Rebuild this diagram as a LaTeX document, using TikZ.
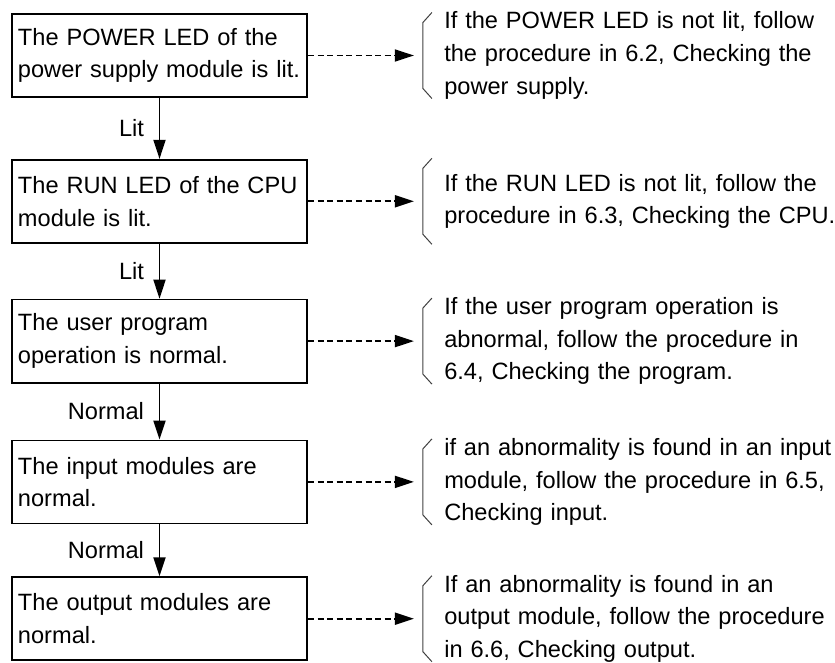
\documentclass[tikz,border=0pt]{standalone}
\usepackage{fontspec}
\setmainfont{Liberation Sans}
\usetikzlibrary{arrows.meta, positioning}
\newcommand{\chartfont}{\fontsize{11.8}{16.3}\selectfont}

\begin{document}
\begin{tikzpicture}[
  checkBox/.style    = {rectangle, draw=black, line width=0.9pt,
                        text width=141.5pt, inner xsep=3pt, minimum height=41.5pt,
                        align=left, font=\chartfont},
  noteTXT/.style     = {rectangle, text width=210pt, inner xsep=15pt,
                        align=left, font=\chartfont},
  arr/.style         = {-{Triangle[length=9.5pt,width=6pt]}, line width=0.9pt},
  dashArr/.style     = {-{Triangle[length=9.5pt,width=6pt]}, line width=0.9pt,
                        dash pattern=on 3pt off 1.8pt},
  noteBracket/.style = {line width=0.5pt, color=black!75},
  lbl/.style         = {font=\chartfont, left=4pt},
]
\useasboundingbox (0,0) rectangle (417.5pt,-331.5pt);

\node[checkBox] (b1) at (79.75pt,-27.75pt)
  {The POWER LED of the\\ power supply module is lit.};
\node[checkBox, below=30.5pt of b1] (b2)
  {The RUN LED of the CPU\\ module is lit.};
\node[checkBox, below=27.5pt of b2] (b3)
  {The user program\\ operation is normal.};
\node[checkBox, below=28pt of b3] (b4)
  {The input modules are\\ normal.};
\node[checkBox, below=26pt of b4] (b5)
  {The output modules are\\ normal.};

%% Remedies
\node[noteTXT, right=53pt of b1] (n1)
  {If the POWER LED is not lit, follow\\ the procedure in 6.2, Checking the\\ power supply.};
\node[noteTXT, right=53pt of b2] (n2)
  {If the RUN LED is not lit, follow the\\ procedure in 6.3, Checking the CPU.};
\node[noteTXT, right=53pt of b3] (n3)
  {If the user program operation is\\ abnormal, follow the procedure in\\ 6.4, Checking the program.};
\node[noteTXT, right=53pt of b4] (n4)
  {if an abnormality is found in an input\\ module, follow the procedure in 6.5,\\ Checking input.};
\node[noteTXT, right=53pt of b5] (n5)
  {If an abnormality is found in an\\ output module, follow the procedure\\ in 6.6, Checking output.};

%% Check sequence
\foreach \a/\b/\t in {b1/b2/Lit, b2/b3/Lit, b3/b4/Normal, b4/b5/Normal}
  \draw[arr] (\a) -- node[lbl] {\t} (\b);

%% Dashed arrows and brackets
\foreach \i in {1,...,5} {
  \draw[dashArr] (b\i) -- (n\i);
  \draw[noteBracket] ([xshift=9pt,yshift=21.5pt]n\i.west)
    -- ([xshift=4.5pt,yshift=16.5pt]n\i.west)
    -- ([xshift=4.5pt,yshift=-16.5pt]n\i.west)
    -- ([xshift=9pt,yshift=-21.5pt]n\i.west);
}

\end{tikzpicture}
\end{document}
